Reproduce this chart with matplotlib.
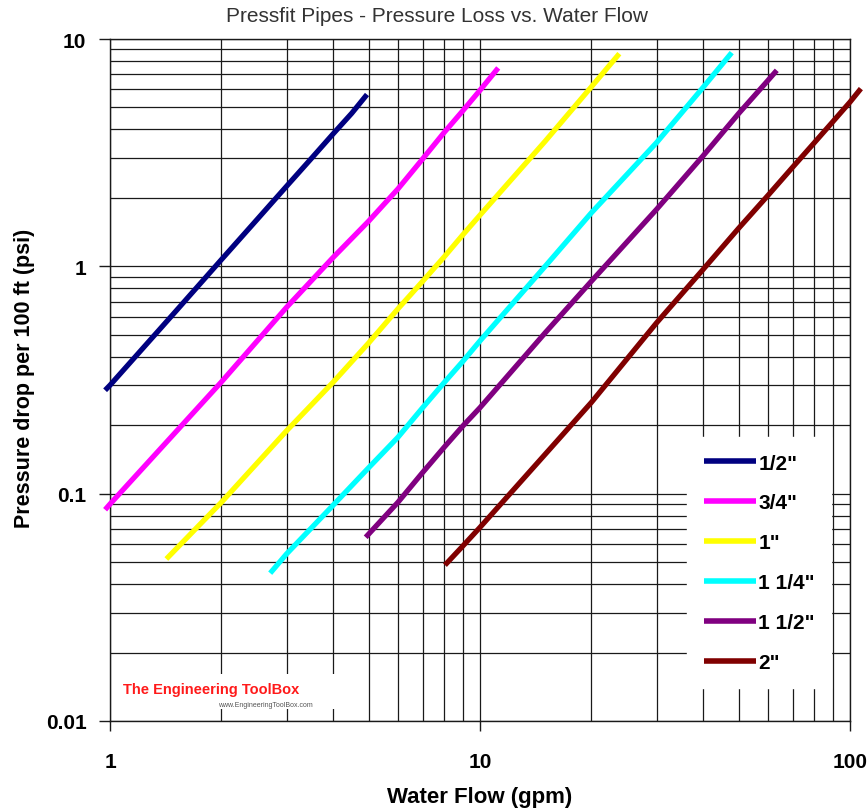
import matplotlib
matplotlib.use("Agg")
import matplotlib.pyplot as plt
from matplotlib.ticker import LogLocator, NullFormatter, FixedLocator, FixedFormatter
from matplotlib.patches import Rectangle

plt.rcParams['font.family'] = ['Liberation Sans', 'DejaVu Sans']

# ---- data ----
labels = ['1/2"', '3/4"', '1"', '1 1/4"', '1 1/2"', '2"']
colors = ['#000080', '#FF00FF', '#FFFF00', '#00FFFF', '#800080', '#800000']

flow_half = [0.97, 1.0, 1.5, 2.0, 2.5, 3.0, 3.5, 4.0, 4.5, 4.95]
drop_half = [0.285, 0.30, 0.63, 1.07, 1.61, 2.25, 2.98, 3.81, 4.71, 5.7]

flow_3q = [0.97, 1.0, 2.0, 3.0, 4.0, 5.0, 6.0, 7.0, 8.0, 9.0, 10.0, 11.2]
drop_3q = [0.085, 0.09, 0.31, 0.66, 1.09, 1.58, 2.19, 2.97, 3.88, 4.85, 5.95, 7.46]

flow_1 = [1.42, 2.0, 3.0, 4.0, 5.0, 6.0, 7.0, 8.0, 9.0, 10.0, 15.0, 20.0, 23.8]
drop_1 = [0.0516, 0.0916, 0.189, 0.308, 0.46, 0.65, 0.86, 1.10, 1.38, 1.68, 3.55, 6.16, 8.62]

flow_114 = [2.71, 3.0, 4.0, 5.0, 6.0, 7.0, 8.0, 9.0, 10.0, 15.0, 20.0, 30.0, 40.0, 47.9]
drop_114 = [0.0447, 0.0543, 0.0886, 0.130, 0.177, 0.239, 0.308, 0.383, 0.47, 1.0, 1.72, 3.5, 6.1, 8.71]

flow_112 = [4.91, 6.0, 7.0, 8.0, 9.0, 10.0, 15.0, 20.0, 30.0, 40.0, 50.0, 60.0, 63.4]
drop_112 = [0.0643, 0.0916, 0.124, 0.160, 0.199, 0.239, 0.51, 0.86, 1.78, 3.05, 4.70, 6.57, 7.28]

flow_2 = [8.04, 9.0, 10.0, 15.0, 20.0, 30.0, 40.0, 50.0, 60.0, 70.0, 80.0, 90.0, 100.0, 107.0]
drop_2 = [0.0485, 0.0590, 0.0711, 0.149, 0.252, 0.564, 0.965, 1.47, 2.05, 2.73, 3.49, 4.34, 5.28, 6.05]

flows = [flow_half, flow_3q, flow_1, flow_114, flow_112, flow_2]
drops = [drop_half, drop_3q, drop_1, drop_114, drop_112, drop_2]

xticks = [1, 10, 100]
xticklabels = ['1', '10', '100']
yticks = [0.01, 0.1, 1, 10]
yticklabels = ['0.01', '0.1', '1', '10']

title = 'Pressfit Pipes - Pressure Loss vs. Water Flow'
xlabel = 'Water Flow (gpm)'
ylabel = 'Pressure drop per 100 ft (psi)'

# ---- figure ----
W, H = 868, 812
fig = plt.figure(figsize=(W / 100, H / 100), dpi=100)
L, R, T, B = 110, 850, 40, 722
ax = fig.add_axes([L / W, 1 - B / H, (R - L) / W, (B - T) / H])
ax.set_xscale('log')
ax.set_yscale('log')

gridc = '#1a1a1a'
ax.xaxis.set_major_locator(FixedLocator(xticks))
ax.xaxis.set_major_formatter(FixedFormatter(xticklabels))
ax.yaxis.set_major_locator(FixedLocator(yticks))
ax.yaxis.set_major_formatter(FixedFormatter(yticklabels))
ax.xaxis.set_minor_locator(LogLocator(base=10, subs=range(2, 10)))
ax.yaxis.set_minor_locator(LogLocator(base=10, subs=range(2, 10)))
ax.xaxis.set_minor_formatter(NullFormatter())
ax.yaxis.set_minor_formatter(NullFormatter())
ax.grid(True, which='both', color=gridc, linewidth=0.9)
ax.set_axisbelow(True)
ax.tick_params(which='minor', length=0)
ax.tick_params(axis='x', which='major', length=7, width=1, color=gridc, pad=15,
               labelsize=15)
ax.tick_params(axis='y', which='major', length=8, width=1, color=gridc, pad=9,
               labelsize=15)
for lab in ax.get_xticklabels() + ax.get_yticklabels():
    lab.set_fontweight('bold')
for sp in ax.spines.values():
    sp.set_color(gridc)
    sp.set_linewidth(1.0)

for fx, dy, c, lb in zip(flows, drops, colors, labels):
    ax.plot(fx, dy, color=c, lw=3.8, label=lb, solid_capstyle='butt',
            solid_joinstyle='round', clip_on=False, zorder=3)

ax.set_xlim(1, 100)
ax.set_ylim(0.01, 10)

leg = ax.legend(loc='upper left', bbox_to_anchor=(687 / W, 1 - 438 / H),
                bbox_transform=fig.transFigure, frameon=True, fancybox=False,
                facecolor='white', edgecolor='white', framealpha=1,
                prop={'weight': 'bold', 'size': 15}, handlelength=2.5,
                handletextpad=0.12, labelspacing=1.0, borderpad=0.8,
                borderaxespad=0)
for h in leg.get_lines():
    h.set_linewidth(4)
leg.set_zorder(5)

# watermark
ax.add_patch(Rectangle((112 / W, 1 - 710 / H), (345 - 112) / W, (710 - 675) / H,
                       transform=fig.transFigure, facecolor='white',
                       edgecolor='none', zorder=4, clip_on=False))
fig.text(123 / W, 1 - 690 / H, 'The Engineering ToolBox', color='#ff1a1a',
         fontsize=10.5, fontweight='bold', va='center', ha='left', zorder=6)
fig.text(218 / W, 1 - 706 / H, 'www.EngineeringToolBox.com', color='#555555',
         fontsize=5, va='center', ha='left', zorder=6)

fig.text(437 / W, 1 - 17 / H, title, ha='center', va='center', fontsize=15,
         color='#333333')
fig.text(480 / W, 1 - 798 / H, xlabel, ha='center', va='center', fontsize=16,
         fontweight='bold')
fig.text(25 / W, 1 - 378 / H, ylabel, ha='center', va='center', fontsize=15.5,
         fontweight='bold', rotation=90)

fig.savefig('out.png', dpi=100)
